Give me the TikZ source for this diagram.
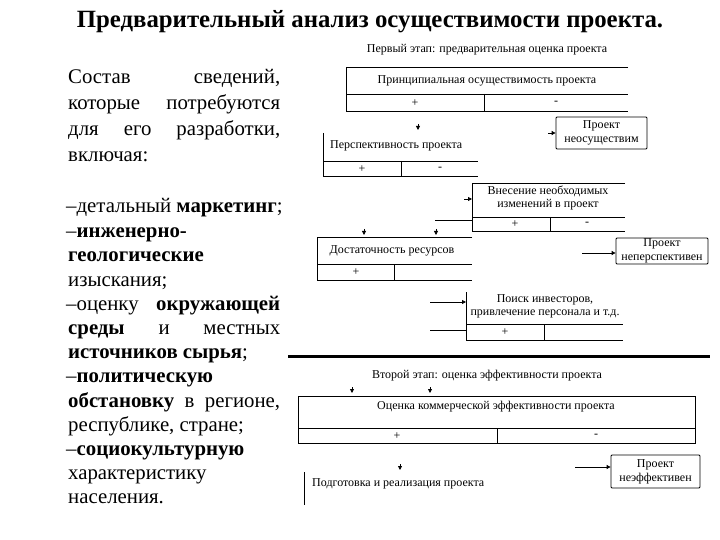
\documentclass[tikz,border=0pt]{standalone}
\usepackage{fontspec}
\setmainfont{Liberation Serif}
\usetikzlibrary{arrows.meta}
\begin{document}
\begin{tikzpicture}[x=1pt,y=-1pt,
  ln/.style={line width=0.8pt},
  dg/.style={font=\fontsize{12}{13}\selectfont, inner sep=0pt},
  lt/.style={font=\fontsize{20.8}{24}\selectfont, anchor=base west, inner sep=0pt},
  tip/.style={-{Triangle[length=4pt,width=4pt]}, line width=0.8pt},
  pbox/.style={draw, line width=0.8pt, rounded corners=1pt, inner sep=0pt, align=center, font=\fontsize{12}{14}\selectfont}]
\useasboundingbox (0,0) rectangle (720,540);

% title
\node[font=\bfseries\fontsize{24.8}{28}\selectfont, inner sep=0pt] (title) at (370,22) {Предварительный анализ осуществимости проекта.};

% left text
\node[lt] (l1) at (68,84) {\hbox to 212pt{Состав\hfill сведений,}};
\node[lt] (l2) at (68,110) {\hbox to 212pt{которые\hfill потребуются}};
\node[lt] (l3) at (68,136) {\hbox to 212pt{для\hfill его\hfill разработки,}};
\node[lt] (l4) at (68,162) {включая:};
\node[lt] (l5) at (66,213) {–детальный \textbf{маркетинг};};
\node[lt] (l6) at (66,237) {–\textbf{инженерно-}};
\node[lt] (l7) at (68,261) {\textbf{геологические}};
\node[lt] (l8) at (68,286) {изыскания;};
\node[lt] (l9) at (66,310) {\hbox to 214pt{–оценку\hfill \textbf{окружающей}}};
\node[lt] (l10) at (68,334) {\hbox to 212pt{\textbf{среды}\hfill и\hfill местных}};
\node[lt] (l11) at (68,358) {\textbf{источников сырья};};
\node[lt] (l12) at (66,382) {–\textbf{политическую}};
\node[lt] (l13) at (68,407) {\hbox to 212pt{\textbf{обстановку}\hfill в\hfill регионе,}};
\node[lt] (l14) at (68,431) {республике, стране;};
\node[lt] (l15) at (66,455) {–\textbf{социокультурную}};
\node[lt] (l16) at (68,479) {характеристику};
\node[lt] (l17) at (68,503) {населения.};

% ---- first stage ----
\node[dg] (st1) at (487,50) {Первый этап: предварительная оценка проекта};

% box1
\draw[ln] (628,67) -- (346,67) -- (346,111) -- (628,111);
\draw[ln] (346,94) -- (628,94);
\draw[ln] (484,94) -- (484,111);
\node[dg] (b1) at (487,81) {Принципиальная осуществимость проекта};
\node[dg] (b1p) at (415,103) {+};
\node[dg] (b1m) at (556,103) {-};

% arrow to box2
\coordinate (a1s) at (418,124);
\coordinate (a1e) at (418,130);
\draw[tip] (a1s) -- (a1e);

% project not feasible
\node[pbox, minimum width=91pt, minimum height=32pt] (pn1) at (601.5,133) {Проект\\неосуществим};
\coordinate (a2s) at (548,133);
\draw[tip] (a2s) -- (pn1.west);

% box2
\draw[ln] (323,133) -- (323,176) -- (478,176);
\draw[ln] (323,161) -- (478,161);
\draw[ln] (401,161) -- (401,176);
\node[dg, anchor=west] (b2) at (330,146) {Перспективность проекта};
\node[dg] (b2p) at (362,169) {+};
\node[dg] (b2m) at (440,169) {-};

% box3
\draw[ln] (625,183) -- (472,183) -- (472,231) -- (625,231);
\draw[ln] (472,217) -- (625,217);
\draw[ln] (550,217) -- (550,231);
\node[dg, align=center] (b3) at (548,198) {Внесение необходимых\\изменений в проект};
\node[dg] (b3p) at (515,224) {+};
\node[dg] (b3m) at (587,224) {-};
\coordinate (a3s) at (464,199);
\coordinate (a3e) at (472,199);
\draw[tip] (a3s) -- (a3e);
\coordinate (l3s) at (435,220);
\coordinate (l3e) at (472,220);
\draw[ln] (l3s) -- (l3e);

% project not perspective
\node[pbox, minimum width=92pt, minimum height=26pt] (pn2) at (662,251) {Проект\\неперспективен};
\coordinate (a4s) at (582,253);
\draw[tip] (a4s) -- (pn2.west |- a4s);

% arrows to box4
\coordinate (a5s) at (364,229);
\coordinate (a5e) at (364,235);
\draw[tip] (a5s) -- (a5e);
\coordinate (a6s) at (436,229);
\coordinate (a6e) at (436,235);
\draw[tip] (a6s) -- (a6e);

% box4
\draw[ln] (472,237) -- (317,237) -- (317,280) -- (472,280);
\draw[ln] (317,264) -- (472,264);
\draw[ln] (394,264) -- (394,280);
\node[dg] (b4) at (392,251) {Достаточность ресурсов};
\node[dg] (b4p) at (356,272) {+};

% box5
\draw[ln] (466,292) -- (466,340) -- (623,340);
\draw[ln] (466,324) -- (623,324);
\draw[ln] (544,324) -- (544,340);
\node[dg, align=center] (b5) at (545,306.5) {Поиск инвесторов,\\привлечение персонала и т.д.};
\node[dg] (b5p) at (505,332) {+};
\coordinate (a7s) at (430,302);
\coordinate (a7e) at (466,302);
\draw[tip] (a7s) -- (a7e);
\coordinate (l7s) at (430,330);
\coordinate (l7e) at (466,330);
\draw[ln] (l7s) -- (l7e);

% separator
\coordinate (sepL) at (288,356);
\coordinate (sepR) at (710,356);
\draw[line width=3pt] (sepL) -- (sepR);

% ---- second stage ----
\node[dg] (st2) at (487,376) {Второй этап: оценка эффективности проекта};
\coordinate (a8s) at (352,387);
\coordinate (a8e) at (352,393);
\draw[tip] (a8s) -- (a8e);
\coordinate (a9s) at (430,387);
\coordinate (a9e) at (430,393);
\draw[tip] (a9s) -- (a9e);

% box6
\draw[ln] (298,396) rectangle (695,443);
\draw[ln] (298,428) -- (695,428);
\draw[ln] (497,428) -- (497,443);
\node[dg] (b6) at (496,407) {Оценка коммерческой эффективности проекта};
\node[dg] (b6p) at (397,436) {+};
\node[dg] (b6m) at (596,436) {-};

% arrow to box7
\coordinate (a10s) at (400,464);
\coordinate (a10e) at (400,470);
\draw[tip] (a10s) -- (a10e);

% box7
\draw[ln] (304,472) -- (304,505);
\node[dg, anchor=west] (b7) at (312,484) {Подготовка и реализация проекта};

% project not effective
\node[pbox, minimum width=89pt, minimum height=33pt] (pn3) at (655.5,471.5) {Проект\\неэффективен};
\coordinate (a11s) at (575,467);
\draw[tip] (a11s) -- (pn3.west |- a11s);
\end{tikzpicture}
\end{document}
